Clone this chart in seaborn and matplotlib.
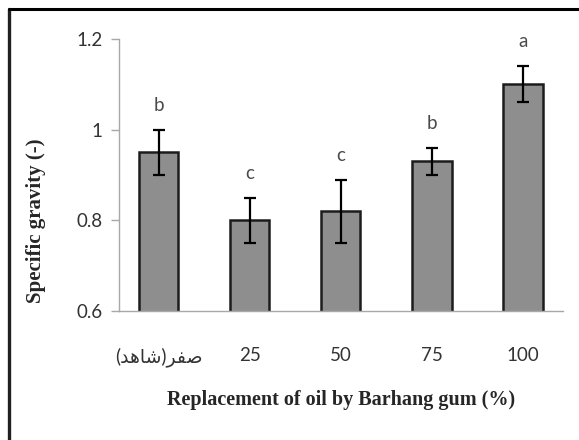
import pandas as pd
import seaborn as sns
import matplotlib.pyplot as plt
from matplotlib.lines import Line2D

# Daten
kategorien = ["صفر(شاهد)", "25", "50", "75", "100"]
dichte = [0.95, 0.80, 0.82, 0.93, 1.10]
fehler = [0.05, 0.05, 0.07, 0.03, 0.04]
buchstaben = ["b", "c", "c", "b", "a"]
y_ticks = [0.6, 0.8, 1.0, 1.2]
y_tick_labels = ["0.6", "0.8", "1", "1.2"]

# matplotlib formt kein Arabisch -> Darstellungsformen in sichtbarer Reihenfolge
anzeige = {"صفر(شاهد)": "(\ufeaa\ufeeb\ufe8e\ufeb7)\ufeae\ufed4\ufebb"}

df = pd.DataFrame({"Anteil": kategorien, "Dichte": dichte})

sns.set_style("white")
plt.rcParams['font.family'] = ['Lato', 'DejaVu Sans']

fig = plt.figure(figsize=(5.79, 4.40), dpi=100)
ax = fig.add_axes([0.2055, 0.2932, 0.7665, 0.6182])

sns.barplot(data=df, x="Anteil", y="Dichte", order=kategorien, color="#8e8e8e",
            saturation=1, width=0.43, edgecolor="#1c1c1c", linewidth=1.8,
            errorbar=None, ax=ax)

# Fehlerbalken
ax.errorbar(range(len(kategorien)), dichte, yerr=fehler, fmt="none",
            ecolor="black", elinewidth=1.6, capsize=4, capthick=1.6, zorder=5)

# Buchstaben über den Balken
for i, (wert, err, b) in enumerate(zip(dichte, fehler, buchstaben)):
    ax.text(i, wert + err + 0.054, b, ha="center", va="center",
            fontsize=13.5, color="#4a4a4a")

ax.set_ylim(0.6, 1.2)
ax.set_yticks(y_ticks)
ax.set_yticklabels(y_tick_labels)
ax.set_xticks(range(len(kategorien)))
ax.set_xticklabels([anzeige.get(k, k) for k in kategorien])

ax.tick_params(axis="y", length=6, width=1, color="#a8a8a8", pad=6,
               labelsize=13.5, labelcolor="#333333", left=True)
ax.tick_params(axis="x", length=0, pad=26, labelsize=13.5, labelcolor="#333333")

sns.despine(ax=ax, top=True, right=True)
ax.spines["left"].set_color("#a8a8a8")
ax.spines["bottom"].set_color("#a8a8a8")
ax.spines["left"].set_linewidth(1)
ax.spines["bottom"].set_linewidth(1)

ax.set_xlabel("Replacement of oil by Barhang gum (%)", fontsize=14.5,
              fontweight="bold", family="Liberation Serif")
ax.set_ylabel("Specific gravity (-)", fontsize=15, fontweight="bold",
              family="Liberation Serif")
ax.xaxis.set_label_coords(0.5, -0.29)
ax.yaxis.set_label_coords(-0.164, 0.33)

# Rahmen oben und links
fig.add_artist(Line2D([0.0164, 0.0164], [0.0, 0.9795], color="#202020",
                      linewidth=2.4, transform=fig.transFigure))
fig.add_artist(Line2D([0.0164, 1.0], [0.9795, 0.9795], color="black",
                      linewidth=2.2, transform=fig.transFigure))

plt.savefig("out.png", dpi=100)
plt.close()
